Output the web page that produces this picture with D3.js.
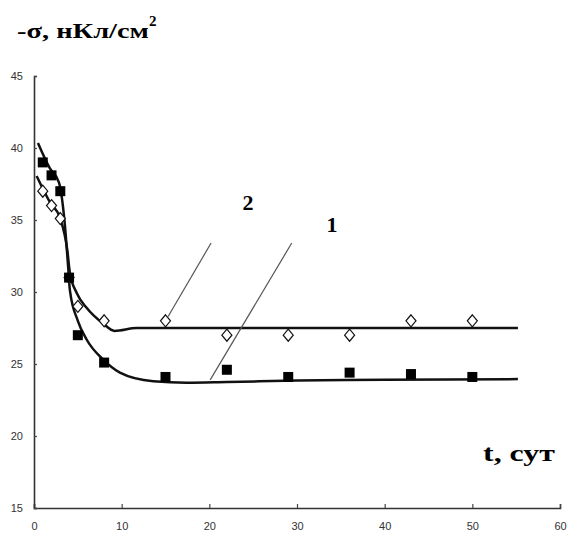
<!DOCTYPE html>
<html>
<head>
<meta charset="utf-8">
<script src="https://cdn.jsdelivr.net/npm/d3@7"></script>
<style>
  body { margin: 0; background: #fff; }
  svg { display: block; }
</style>
</head>
<body>
<div id="chart"></div>
<script>
var width = 568;
var height = 535;

// measured points, series 1 (filled squares)
var t1 = [1, 2, 3, 4, 5, 8, 15, 22, 29, 36, 43, 50];
var s1 = [39, 38.1, 37, 31, 27, 25.1, 24.1, 24.6, 24.1, 24.4, 24.3, 24.1];
// series 2 (open diamonds)
var t2 = [1, 2, 3, 4, 5, 8, 15, 22, 29, 36, 43, 50];
var s2 = [37, 36, 35.1, 31, 29, 28, 28, 27, 27, 27, 28, 28];

// fitted curves
var fitT1 = [0.45, 1.8, 2.85, 3.5, 3.9, 4.1, 5, 6, 7.9, 9.8, 13.6, 17.4, 22, 30, 40, 55.2];
var fitY1 = [40.35, 38.6, 37.6, 34.8, 31.7, 30.1, 28.0, 26.7, 25.3, 24.4, 23.8, 23.7, 23.75, 23.85, 23.9, 23.95];
var fitT2 = [0.3, 1.8, 3, 3.8, 4.1, 4.9, 6, 7.9, 9.2, 11.7, 20, 55.2];
var fitY2 = [38.05, 36.25, 35.1, 32.9, 31.3, 29.9, 28.9, 27.8, 27.3, 27.5, 27.5, 27.5];

var xTicks = [0, 10, 20, 30, 40, 50, 60];
var yTicks = [15, 20, 25, 30, 35, 40, 45];

var x = d3.scaleLinear().domain([0, 60]).range([34, 560]);
var y = d3.scaleLinear().domain([15, 45]).range([508, 76]);

var svg = d3.select("#chart").append("svg")
    .attr("width", width)
    .attr("height", height);

// axes
var xAxis = svg.append("g")
    .attr("transform", "translate(0," + y(15) + ")")
    .call(d3.axisBottom(x).tickValues(xTicks).tickSize(-4).tickPadding(14));
var yAxis = svg.append("g")
    .attr("transform", "translate(" + x(0) + ",0)")
    .call(d3.axisLeft(y).tickValues(yTicks).tickSize(-3).tickPadding(11));

[xAxis, yAxis].forEach(function(g) {
    g.select(".domain").attr("stroke", "#333").attr("stroke-width", 1.6);
    g.selectAll(".tick line").attr("stroke", "#444").attr("stroke-width", 1.2);
    g.selectAll(".tick text")
        .attr("fill", "#333")
        .style("font-family", "Liberation Sans, Arial, sans-serif")
        .style("font-size", "11px");
});

// fitted lines
var line = d3.line()
    .x(function(d) { return x(d[0]); })
    .y(function(d) { return y(d[1]); })
    .curve(d3.curveMonotoneX);

svg.append("path")
    .datum(d3.zip(fitT1, fitY1))
    .attr("d", line)
    .attr("fill", "none")
    .attr("stroke", "#111")
    .attr("stroke-width", 2.5);

svg.append("path")
    .datum(d3.zip(fitT2, fitY2))
    .attr("d", line)
    .attr("fill", "none")
    .attr("stroke", "#111")
    .attr("stroke-width", 2.5);

// series 2 diamonds
svg.selectAll(".dia")
    .data(d3.zip(t2, s2))
    .enter()
    .append("path")
    .attr("class", "dia")
    .attr("d", "M0,-6L5,0L0,6L-5,0Z")
    .attr("transform", function(d) { return "translate(" + x(d[0]) + "," + y(d[1]) + ")"; })
    .attr("fill", "#fff")
    .attr("stroke", "#111")
    .attr("stroke-width", 1.2);

// series 1 squares
svg.selectAll(".sq")
    .data(d3.zip(t1, s1))
    .enter()
    .append("rect")
    .attr("class", "sq")
    .attr("x", function(d) { return x(d[0]) - 5; })
    .attr("y", function(d) { return y(d[1]) - 5; })
    .attr("width", 10)
    .attr("height", 10)
    .attr("fill", "#000");

// leader lines
var leaders = [
    [[20.2, 33.4], [15.3, 28.3]],
    [[29.4, 33.4], [20.1, 23.9]]
];
svg.selectAll(".lead")
    .data(leaders)
    .enter()
    .append("line")
    .attr("x1", function(d) { return x(d[0][0]); })
    .attr("y1", function(d) { return y(d[0][1]); })
    .attr("x2", function(d) { return x(d[1][0]); })
    .attr("y2", function(d) { return y(d[1][1]); })
    .attr("stroke", "#555")
    .attr("stroke-width", 1.2);

var serif = "Liberation Serif, Times New Roman, serif";

svg.append("text")
    .attr("x", x(24.4))
    .attr("y", y(35.7))
    .attr("text-anchor", "middle")
    .style("font-family", serif)
    .style("font-weight", "bold")
    .style("font-size", "22px")
    .text("2");

svg.append("text")
    .attr("x", x(34))
    .attr("y", y(34.2))
    .attr("text-anchor", "middle")
    .style("font-family", serif)
    .style("font-weight", "bold")
    .style("font-size", "22px")
    .text("1");

// axis titles
var yTitle = svg.append("text")
    .attr("x", 17)
    .attr("y", 38)
    .style("font-family", serif)
    .style("font-weight", "bold")
    .style("font-size", "22px");
yTitle.append("tspan")
    .attr("textLength", 132)
    .attr("lengthAdjust", "spacingAndGlyphs")
    .text("-σ, нКл/см");
yTitle.append("tspan")
    .attr("dy", -12)
    .style("font-size", "15px")
    .text("2");

svg.append("text")
    .attr("x", 483)
    .attr("y", 461)
    .attr("textLength", 72)
    .attr("lengthAdjust", "spacingAndGlyphs")
    .style("font-family", serif)
    .style("font-weight", "bold")
    .style("font-size", "23px")
    .text("t, сут");
</script>
</body>
</html>
